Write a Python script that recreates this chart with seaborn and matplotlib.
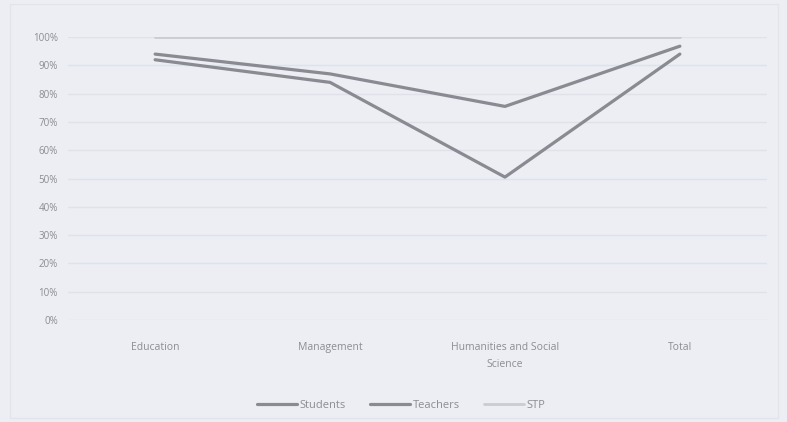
import matplotlib
matplotlib.use("Agg")
import matplotlib.pyplot as plt
import seaborn as sns
import pandas as pd
from matplotlib.ticker import PercentFormatter
from matplotlib.lines import Line2D

categories = ["Education", "Management", "Humanities and Social\nScience", "Total"]
students = [0.92, 0.84, 0.505, 0.94]
teachers = [0.94, 0.87, 0.755, 0.968]
stp = [1.0, 1.0, 1.0, 1.0]

df = pd.DataFrame({
    "category": categories * 3,
    "value": students + teachers + stp,
    "series": ["Students"] * 4 + ["Teachers"] * 4 + ["STP"] * 4,
})

bg = "#eceef4"
sns.set_theme(style="white")
plt.rcParams['font.family'] = ['Open Sans', 'DejaVu Sans']

fig = plt.figure(figsize=(7.87, 4.22), dpi=100, facecolor=bg)
ax = fig.add_axes([0.086, 0.242, 0.889, 0.67])
ax.set_facecolor(bg)

palette = {"Students": "#8a8b92", "Teachers": "#8a8b92", "STP": "#cbccd3"}
sizes = {"Students": 2.3, "Teachers": 2.3, "STP": 2.0}
sns.lineplot(data=df, x="category", y="value", hue="series", size="series",
             sizes=sizes, palette=palette, sort=False, ax=ax, legend=False)

ax.set_ylim(0, 1.0)
ax.set_xlim(-0.5, 3.5)
ax.set_yticks([i / 10 for i in range(11)])
ax.yaxis.set_major_formatter(PercentFormatter(1.0, decimals=0))
ax.grid(axis='y', color="#e0e2ea", linewidth=1)
ax.set_axisbelow(True)
for s in ax.spines.values():
    s.set_visible(False)
ax.tick_params(axis='y', length=0, labelsize=7, labelcolor="#8c8d94", pad=7)
ax.tick_params(axis='x', length=0, labelsize=7.5, labelcolor="#8c8d94", pad=16)
for lbl in ax.get_xticklabels():
    lbl.set_linespacing(1.7)
ax.set_xlabel("")
ax.set_ylabel("")

# legend
handles = [Line2D([], [], color=palette[k], lw=sizes[k]) for k in ["Students", "Teachers", "STP"]]
fig.legend(handles, ["Students", "Teachers", "STP"], loc="center", bbox_to_anchor=(0.51, 0.04),
           ncol=3, frameon=False, fontsize=8, labelcolor="#8c8d94",
           handlelength=3.6, handletextpad=0.2, columnspacing=2.2)

# faint outer border
fig.patches.append(plt.Rectangle((0.013, 0.01), 0.975, 0.98, transform=fig.transFigure,
                                 fill=False, edgecolor="#e2e4ea", linewidth=1))

fig.savefig("out.png", dpi=100, facecolor=bg)
